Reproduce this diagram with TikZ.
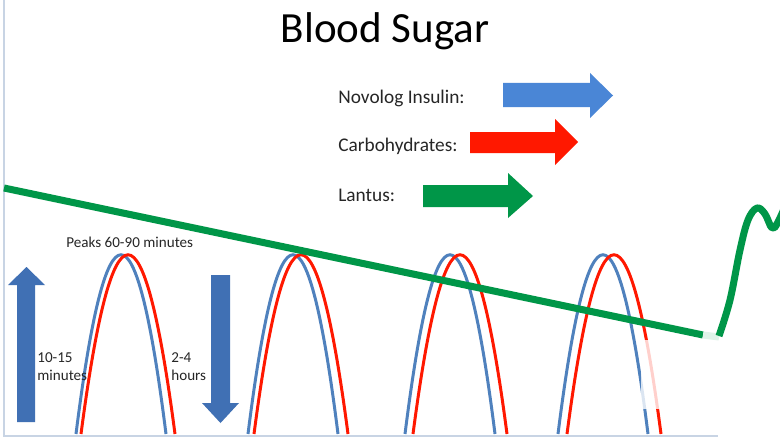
\documentclass[tikz,border=0pt]{standalone}
\usepackage{fontspec}
\setmainfont{Carlito}
\definecolor{curveblue}{RGB}{79,129,189}
\definecolor{arrowblue}{RGB}{64,112,180}
\definecolor{insulinblue}{RGB}{74,134,214}
\definecolor{carbred}{RGB}{255,24,0}
\definecolor{lantusgreen}{RGB}{0,150,72}
\definecolor{framegray}{RGB}{200,212,228}
\definecolor{labelgray}{RGB}{38,38,38}
\begin{document}
\begin{tikzpicture}[x=0.02cm, y=-0.02cm,
		legendtext/.style={font=\fontsize{11}{13}\selectfont, text=labelgray, inner sep=0, anchor=base west},
		smalltext/.style={font=\fontsize{8.6}{10.2}\selectfont, text=labelgray, inner sep=0, align=left},
		hump/.style={line width=1.7pt},
		lantusline/.style={lantusgreen, line width=4pt, line join=round}]
		\clip (0,0) rectangle (780,439);
		\fill[white] (0,0) rectangle (780,439);

		% Frame
		\draw[framegray, line width=1.1pt] (4,0) -- (4,436) -- (718,436);

		% Title
		\node[font=\fontsize{24.5}{29}\selectfont, inner sep=0, anchor=base] (title) at (385,43) {Blood Sugar};

		% Legend
		\node[legendtext] (novolog) at (338,103) {Novolog Insulin:};
		\fill[insulinblue] (503,83) -- (590,83) -- (590,73) -- (613,95.5) -- (590,118) -- (590,107) -- (503,107) -- cycle;
		\node[legendtext] (carbs) at (338,151) {Carbohydrates:};
		\fill[carbred] (470,132) -- (555,132) -- (555,119) -- (578,142) -- (555,165) -- (555,153) -- (470,153) -- cycle;
		\node[legendtext] (lantus) at (338,201) {Lantus:};
		\fill[lantusgreen] (423,185) -- (508,185) -- (508,173) -- (533,196) -- (508,218) -- (508,207) -- (423,207) -- cycle;

		% Peaks: insulin (blue) and carbohydrates (red)
		\foreach \xb/\xr in {121/128, 293/301, 450/460, 603/614} {
			\draw[hump, curveblue] (\xb-45,434) .. controls (\xb-15,195) and (\xb+15,195) .. (\xb+45,434);
			\draw[hump, carbred] (\xr-47,434) .. controls (\xr-15.7,195) and (\xr+15.7,195) .. (\xr+47,434);
		}
		\fill[white, opacity=0.8] (641,340) rectangle (700,409);

		% Rise and fall
		\fill[arrowblue] (17,422) -- (17,285) -- (8,285) -- (26.5,267) -- (45,285) -- (35,285) -- (35,422) -- cycle;
		\node[smalltext, anchor=west] (rise) at (37,367) {10-15\\minutes};
		\fill[arrowblue] (211,275) -- (230,275) -- (230,403) -- (239,403) -- (220.5,423) -- (202,403) -- (211,403) -- cycle;
		\node[smalltext, anchor=west] (fall) at (171,367) {2-4\\hours};
		\node[smalltext, anchor=base west] (peaks) at (66,247) {Peaks 60-90 minutes};

		% Lantus baseline
		\draw[lantusline] (4,188) -- (703,335);
		\draw[lantusline, lantusgreen!12] (703,335) -- (719,337);
		\draw[lantusline] plot[smooth, tension=0.6] coordinates {(719,336) (730,300) (740,250) (748,220) (757,208) (765,214) (772,228) (778,222) (790,195)};
	\end{tikzpicture}
\end{document}
